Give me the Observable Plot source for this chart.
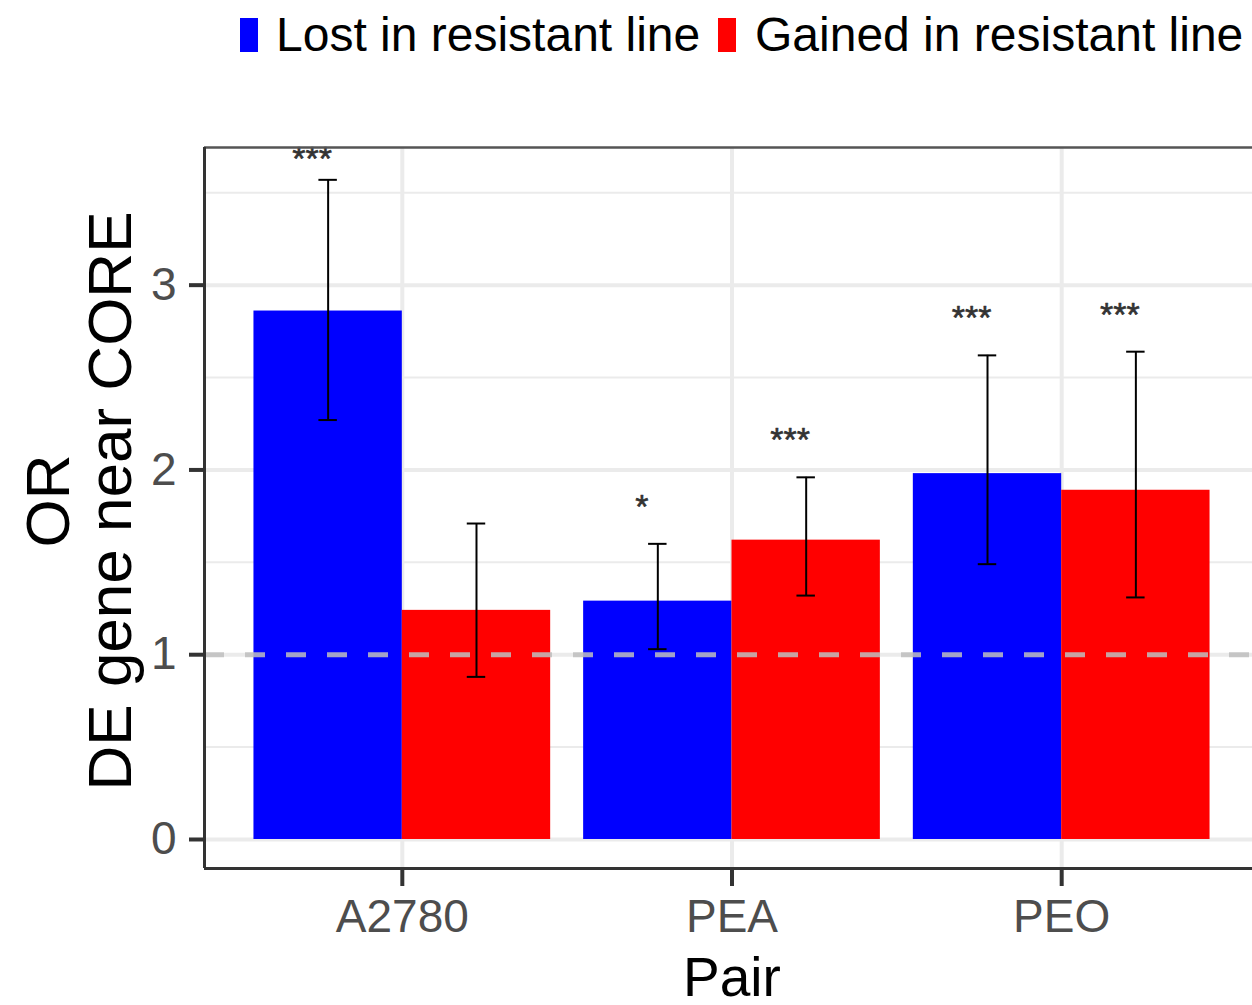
<!DOCTYPE html>
<html>
<head>
<meta charset="utf-8">
<script src="https://cdn.jsdelivr.net/npm/d3@7"></script>
<script src="https://cdn.jsdelivr.net/npm/@observablehq/plot@0.6"></script>
<style>
  html, body { margin: 0; padding: 0; background: white; overflow: hidden; }
  body { width: 1252px; height: 1005px; font-family: "Liberation Sans", Arial, sans-serif; }
  #legend { position: relative; height: 80px; }
  .key { position: absolute; top: 18px; width: 18px; height: 34px; }
  .lab { position: absolute; top: 35px; transform: translateY(-50%); font-size: 48px; color: #000; white-space: nowrap; line-height: 1; }
  #chart svg { display: block; max-width: none !important; }
</style>
</head>
<body>
<div id="legend"></div>
<div id="chart"></div>
<script>
const pairs = ["A2780", "PEA", "PEO"];
const groups = ["Lost in resistant line", "Gained in resistant line"];
const groupColors = ["#0000FF", "#FF0000"];
const orLost = [2.86, 1.29, 1.98];
const orGained = [1.24, 1.62, 1.89];
const ciLowLost = [2.27, 1.03, 1.49];
const ciHighLost = [3.57, 1.60, 2.62];
const ciLowGained = [0.88, 1.32, 1.31];
const ciHighGained = [1.71, 1.96, 2.64];
const sigLost = ["***", "*", "***"];
const sigGained = ["", "***", "***"];
const yTicks = [0, 1, 2, 3];
const yMinorTicks = [0.5, 1.5, 2.5, 3.5];
const refLine = [1];

// legend
const legend = document.getElementById("legend");
const keyX = [240, 718], labX = [276, 755];
groups.forEach((g, j) => {
  const k = document.createElement("div");
  k.className = "key"; k.style.left = keyX[j] + "px"; k.style.background = groupColors[j];
  legend.appendChild(k);
  const t = document.createElement("div");
  t.className = "lab"; t.style.left = labX[j] + "px"; t.textContent = g;
  legend.appendChild(t);
});

const dodgeWidth = 0.9;
const rows = pairs.flatMap((p, i) => groups.map((g, j) => {
  const x1 = (i + 1) - dodgeWidth / 2 + j * dodgeWidth / 2;
  const x2 = x1 + dodgeWidth / 2;
  const hi = j ? ciHighGained[i] : ciHighLost[i];
  return {
    pair: p, group: g, x1, x2, cx: (x1 + x2) / 2,
    or: j ? orGained[i] : orLost[i],
    lo: j ? ciLowGained[i] : ciLowLost[i],
    hi,
    sig: j ? sigGained[i] : sigLost[i],
    sigY: Math.min(hi + 0.2, 3.68)
  };
}));

const xDomain = [0.4, 3.6];
const yDomain = [-0.157, 3.745];
const capHalf = 0.028;

const chart = Plot.plot({
  width: 1262,
  height: 925,
  marginLeft: 204,
  marginRight: 3,
  marginTop: 67,
  marginBottom: 137,
  style: { fontFamily: "'Liberation Sans', Arial, sans-serif", background: "white", overflow: "visible", maxWidth: "none" },
  x: { domain: xDomain, axis: null },
  y: { domain: yDomain, axis: null },
  color: { domain: groups, range: groupColors },
  marks: [
    Plot.ruleY(yMinorTicks, { stroke: "#EBEBEB", strokeWidth: 2 }),
    Plot.ruleY(yTicks, { stroke: "#EBEBEB", strokeWidth: 4 }),
    Plot.ruleX([1, 2, 3], { stroke: "#EBEBEB", strokeWidth: 4 }),
    Plot.rectY(rows, { x1: "x1", x2: "x2", y1: 0, y2: "or", fill: "group" }),
    Plot.ruleY(refLine, { stroke: "#BEBEBE", strokeOpacity: 0.85, strokeWidth: 5, strokeDasharray: "20,21" }),
    Plot.ruleX(rows, { x: "cx", y1: "lo", y2: "hi", stroke: "#000", strokeWidth: 2 }),
    Plot.ruleY(rows, { y: "hi", x1: d => d.cx - capHalf, x2: d => d.cx + capHalf, stroke: "#000", strokeWidth: 2 }),
    Plot.ruleY(rows, { y: "lo", x1: d => d.cx - capHalf, x2: d => d.cx + capHalf, stroke: "#000", strokeWidth: 2 }),
    Plot.text(rows, { x: "cx", y: "sigY", text: "sig", dx: -16, fontSize: 34, fill: "#333", stroke: "#333", strokeWidth: 0.6 }),
    // panel border / axis lines
    Plot.ruleY([yDomain[1]], { stroke: "#555", strokeWidth: 2.5 }),
    Plot.ruleX([xDomain[0]], { stroke: "#333", strokeWidth: 3 }),
    Plot.ruleY([yDomain[0]], { stroke: "#333", strokeWidth: 3 }),
    Plot.axisY({ ticks: yTicks, tickSize: 15, tickPadding: 13, fontSize: 46, stroke: "#333", strokeWidth: 4, fill: "#4D4D4D", label: null, tickFormat: d => String(d) }),
    Plot.axisX({ ticks: [1, 2, 3], tickFormat: d => pairs[d - 1], tickSize: 18, tickPadding: 13, fontSize: 46, stroke: "#333", strokeWidth: 4, fill: "#4D4D4D", label: null }),
    Plot.text(["Pair"], { frameAnchor: "bottom", lineAnchor: "top", dy: 88, fontSize: 55, fill: "#000" }),
    Plot.text(["OR\nDE gene near CORE"], { frameAnchor: "left", rotate: -90, dx: -124, dy: -7, textAnchor: "middle", lineAnchor: "middle", lineHeight: 1, fontSize: 62, fill: "#000" })
  ]
});
document.getElementById("chart").appendChild(chart);
</script>
</body>
</html>
